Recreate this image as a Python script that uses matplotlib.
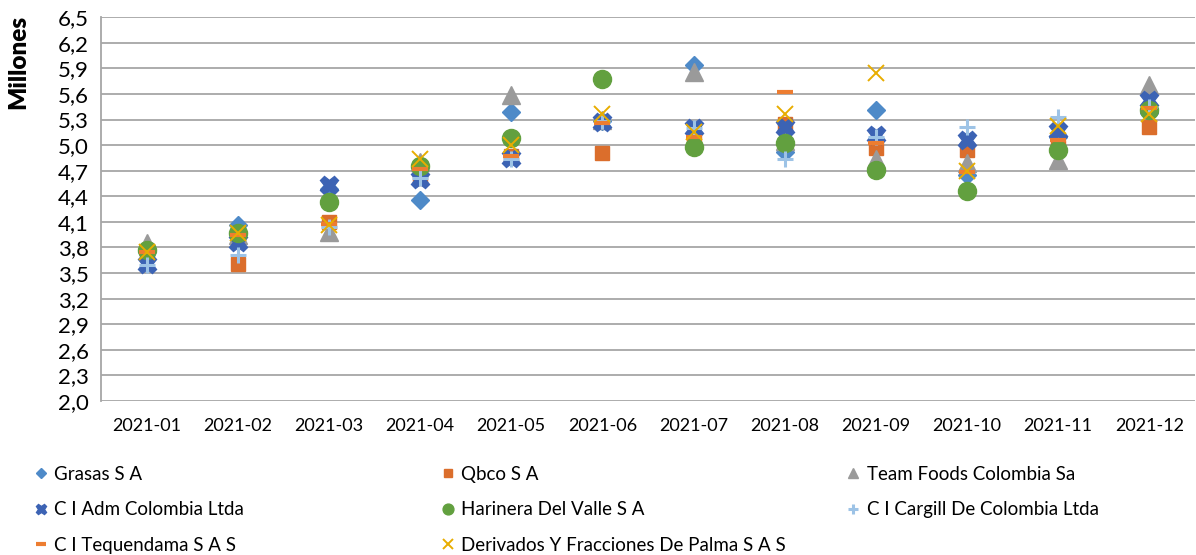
import matplotlib.pyplot as plt
from matplotlib.ticker import FixedLocator

plt.rcParams['font.family'] = ['Lato', 'DejaVu Sans']

months = ['2021-01', '2021-02', '2021-03', '2021-04', '2021-05', '2021-06',
          '2021-07', '2021-08', '2021-09', '2021-10', '2021-11', '2021-12']

# values in millions
grasas = [3.75, 4.06, 4.48, 4.36, 5.39, 5.28, 5.94, 4.92, 5.41, 4.65, 5.10, 5.38]
qbco = [3.75, 3.61, 4.10, 4.62, 4.87, 4.91, 5.05, 5.25, 4.97, 4.94, 4.98, 5.21]
team_foods = [3.85, 3.95, 3.98, 4.80, 5.59, 5.30, 5.86, 5.05, 4.84, 4.79, 4.83, 5.71]
adm = [3.61, 3.87, 4.53, 4.60, 4.85, 5.27, 5.20, 5.21, 5.12, 5.06, 5.16, 5.53]
harinera = [3.77, 3.97, 4.33, 4.75, 5.08, 5.77, 4.98, 5.02, 4.71, 4.46, 4.94, 5.41]
cargill = [3.59, 3.71, 4.04, 4.61, 4.84, 5.28, 5.20, 4.84, 5.09, 5.21, 5.33, 5.45]
tequendama = [3.75, 3.95, 4.08, 4.72, 4.87, 5.26, 5.10, 5.62, 5.03, 4.69, 5.06, 5.43]
derivados = [3.75, 3.97, 4.06, 4.84, 5.00, 5.37, 5.15, 5.36, 5.85, 4.70, 5.23, 5.37]

y_ticks = [2.0, 2.3, 2.6, 2.9, 3.2, 3.5, 3.8, 4.1, 4.4, 4.7, 5.0, 5.3, 5.6, 5.9, 6.2, 6.5]

fig = plt.figure(figsize=(11.96, 5.55), dpi=100)
ax = fig.add_axes([0.0845, 0.2775, 0.9145, 0.6915])

x = list(range(len(months)))

series = [
    ('Grasas S A', grasas, dict(marker='D', ms=9, color='#4E8AC8', mec='#4E8AC8')),
    ('Qbco S A', qbco, dict(marker='s', ms=10, color='#DB6E2C', mec='#DB6E2C')),
    ('Team Foods Colombia Sa', team_foods, dict(marker='^', ms=13, color='#9A9A9A', mec='#9A9A9A')),
    ('C I Adm Colombia Ltda', adm, dict(marker='X', ms=13, color='#3C63B4', mec='#3C63B4')),
    ('Harinera Del Valle S A', harinera, dict(marker='o', ms=13, color='#62A03F', mec='#62A03F')),
    ('C I Cargill De Colombia Ltda', cargill, dict(marker='+', ms=11, mew=2.2, color='#9DC3E6')),
    ('C I Tequendama S A S', tequendama, dict(marker='_', ms=12, mew=3, color='#ED7D31')),
    ('Derivados Y Fracciones De Palma S A S', derivados, dict(marker='x', ms=12, mew=1.4, color='#E8AD00')),
]

handles = {}
for name, vals, style in series:
    h, = ax.plot(x, vals, ls='none', label=name, zorder=3, **style)
    handles[name] = h

ax.set_xlim(-0.5, len(months) - 0.5)
ax.set_ylim(2.0, 6.5)
ax.yaxis.set_major_locator(FixedLocator(y_ticks))
ax.set_yticklabels([('%.1f' % v).replace('.', ',') for v in y_ticks], fontsize=16)
ax.set_xticks(x)
ax.set_xticklabels(months, fontsize=13)
ax.tick_params(axis='both', length=0)
ax.tick_params(axis='y', pad=9)
ax.tick_params(axis='x', pad=12)
ax.grid(axis='y', color='#A6A6A6', lw=1.3, zorder=0)
for s in ['top', 'right', 'bottom']:
    ax.spines[s].set_visible(False)
ax.spines['left'].set_color('#A6A6A6')
ax.spines['left'].set_linewidth(1.3)
ax.set_ylabel('Millones', fontsize=17.5, fontweight='heavy', loc='top')
ax.yaxis.set_label_coords(-0.066, 1.006)

# legend: three columns, row-major order as in the original
cols = [
    (['Grasas S A', 'C I Adm Colombia Ltda', 'C I Tequendama S A S'], 0.022),
    (['Qbco S A', 'Harinera Del Valle S A', 'Derivados Y Fracciones De Palma S A S'], 0.362),
    (['Team Foods Colombia Sa', 'C I Cargill De Colombia Ltda'], 0.701),
]
for names, xpos in cols:
    leg = fig.legend([handles[n] for n in names], names, loc='upper left',
                     bbox_to_anchor=(xpos, 0.174), frameon=False, fontsize=13.5,
                     markerscale=0.6, handlelength=0.8, handletextpad=0.3,
                     labelspacing=0.98, borderaxespad=0)

fig.savefig('out.png', dpi=100)
